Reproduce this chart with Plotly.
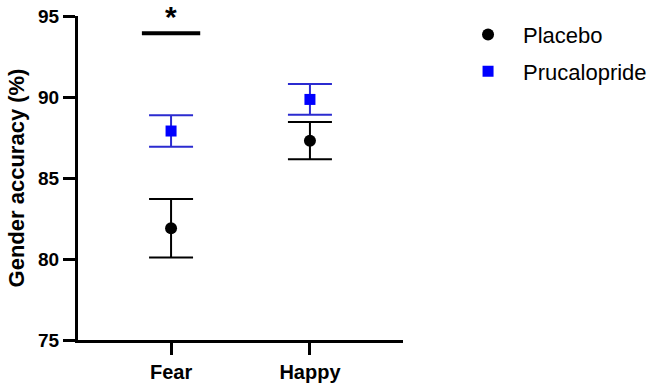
import plotly.graph_objects as go

categories = ["Fear", "Happy"]
placebo_mean = [81.9, 87.3]
placebo_err = [1.8, 1.15]
pruc_mean = [87.9, 89.85]
pruc_err = [0.97, 0.95]
y_ticks = [75, 80, 85, 90, 95]
sig_y = 93.93
sig_x = [-0.21, 0.21]

FONT = "Liberation Sans, Arial, sans-serif"

fig = go.Figure()
fig.add_trace(go.Scatter(
    x=[0, 1], y=placebo_mean, mode="markers", name="Placebo",
    legendgroup="a",
    marker=dict(symbol="circle", size=12, color="black"),
    error_y=dict(type="data", array=placebo_err, visible=True,
                 color="black", thickness=2, width=22),
))
fig.add_trace(go.Scatter(
    x=[0, 1], y=pruc_mean, mode="markers", name="Prucalopride",
    legendgroup="b",
    marker=dict(symbol="square", size=11, color="#0000ff"),
    error_y=dict(type="data", array=pruc_err, visible=True,
                 color="#2b2bd0", thickness=2, width=22),
))

fig.add_shape(type="line", xref="x", yref="y", x0=sig_x[0], x1=sig_x[1],
              y0=sig_y, y1=sig_y, line=dict(color="black", width=4))
fig.add_annotation(x=0, y=0.997, xref="x", yref="paper", text="<b>*</b>",
                   showarrow=False, font=dict(family=FONT, size=30, color="black"),
                   yanchor="middle")

fig.update_layout(
    width=656, height=384,
    margin=dict(l=78, r=253, t=16, b=44, autoexpand=False),
    plot_bgcolor="white", paper_bgcolor="white",
    font=dict(family=FONT, color="black"),
    showlegend=True,
    legend=dict(x=1.154, y=1.007, xanchor="left", yanchor="top",
                itemwidth=60, traceorder="grouped", tracegroupgap=5,
                font=dict(family=FONT, size=22, color="black"),
                bgcolor="rgba(0,0,0,0)"),
)
fig.update_xaxes(
    range=[-0.67, 1.67], tickvals=[0, 1], ticktext=categories,
    showline=True, linecolor="black", linewidth=3,
    ticks="outside", ticklen=12, tickwidth=3, tickcolor="black",
    showgrid=False, zeroline=False, automargin=False,
    tickfont=dict(family=FONT, size=20, color="black", weight="bold"),
)
fig.update_yaxes(
    range=[75, 95], tickvals=y_ticks, ticktext=[str(t) for t in y_ticks],
    showline=True, linecolor="black", linewidth=3,
    ticks="outside", ticklen=12, tickwidth=3, tickcolor="black",
    showgrid=False, zeroline=False, automargin=False,
    tickfont=dict(family=FONT, size=19, color="black", weight="bold"),
    title=dict(text="Gender accuracy (%)", standoff=8,
               font=dict(family=FONT, size=22, color="black", weight="bold")),
)

fig.write_html("out.html", config={"displayModeBar": False},
               post_script="document.body.style.margin='0';document.body.style.overflow='hidden';")
